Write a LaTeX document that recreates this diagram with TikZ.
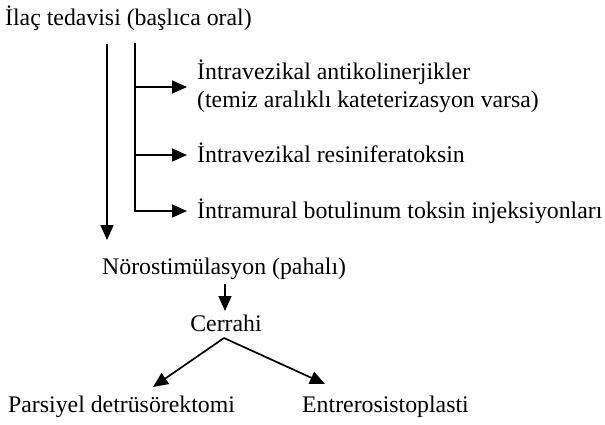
\documentclass[tikz,border=0pt]{standalone}
\usepackage{fontspec}
\setmainfont{Liberation Serif}
\usetikzlibrary{arrows.meta}
\tikzset{
  lbl/.style={inner sep=0pt, font=\fontsize{23.8}{27.5}\selectfont, anchor=base west},
  ln/.style={line width=1.7pt, line cap=rect},
  arr/.style={line width=1.7pt, -{Triangle[length=15pt,width=13pt]}}
}
\begin{document}
\begin{tikzpicture}[x=1pt,y=-1pt]
\useasboundingbox (0,0) rectangle (605,424);
\fill[white] (0,0) rectangle (605,424);
% texts
\node[lbl] (title) at (5,25) {İlaç tedavisi (başlıca oral)};
\node[lbl] (b1a) at (197,79) {İntravezikal antikolinerjikler};
\node[lbl] (b1b) at (197,107) {(temiz aralıklı kateterizasyon varsa)};
\node[lbl] (b2) at (197,162) {İntravezikal resiniferatoksin};
\node[lbl] (b3) at (197,218) {İntramural botulinum toksin injeksiyonları};
\node[lbl] (neuro) at (102,274) {Nörostimülasyon (pahalı)};
\node[lbl, anchor=base] (cerr) at (226,331) {Cerrahi};
\node[lbl] (pars) at (8,412) {Parsiyel detrüsörektomi};
\node[lbl] (entr) at (302,412) {Entrerosistoplasti};
% coordinates
\coordinate (L0) at (107,44);
\coordinate (L1) at (107,240);
\coordinate (R0) at (135,44);
\coordinate (R1) at (135,87);
\coordinate (R2) at (135,155);
\coordinate (R3) at (135,211);
\coordinate (T1) at (187,87);
\coordinate (T2) at (187,155);
\coordinate (T3) at (187,211);
\coordinate (N0) at (225,284);
\coordinate (N1) at (225,311);
\coordinate (C0) at (224,338);
\coordinate (P1) at (153,387);
\coordinate (E1) at (325,384);
% connectors
\draw[arr] (L0) -- (L1);
\draw[ln] (R0) -- (R3);
\draw[arr] (R1) -- (T1);
\draw[arr] (R2) -- (T2);
\draw[arr] (R3) -- (T3);
\draw[arr] (N0) -- (N1);
\draw[arr] (C0) -- (P1);
\draw[arr] (C0) -- (E1);
\end{tikzpicture}
\end{document}
